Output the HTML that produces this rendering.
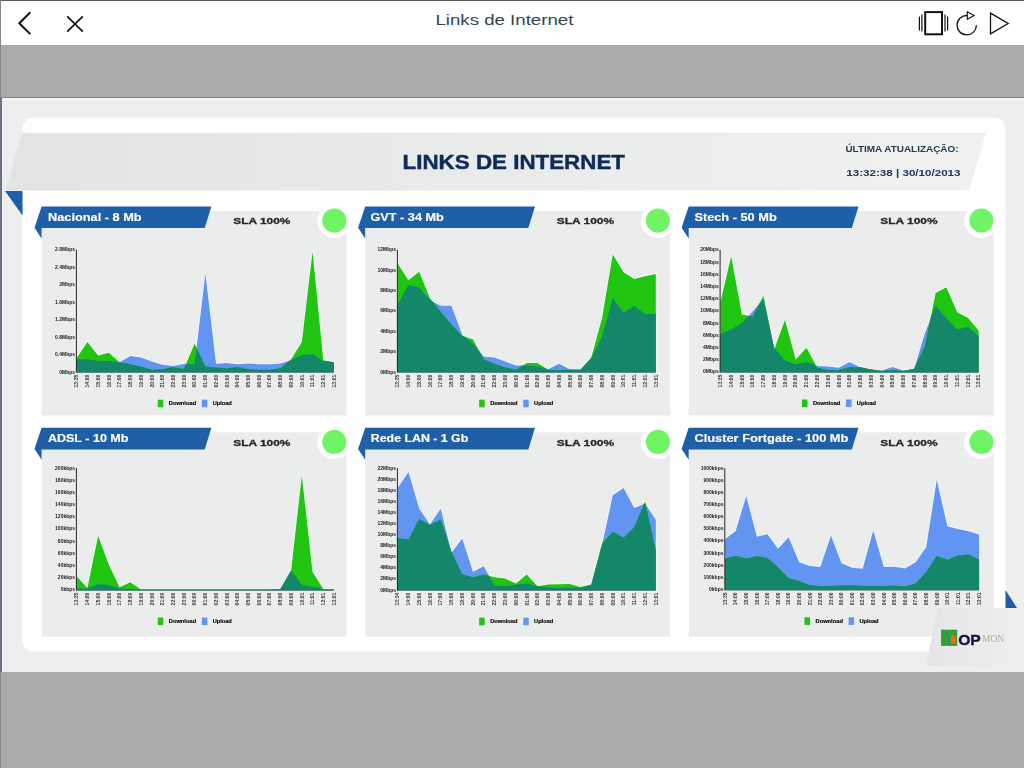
<!DOCTYPE html>
<html><head><meta charset="utf-8"><title>Links de Internet</title>
<style>
html,body{margin:0;padding:0;}
body{width:1024px;height:768px;overflow:hidden;background:#aaaaaa;position:relative;font-family:"Liberation Sans",sans-serif;}
#bar{position:absolute;left:0;top:0;width:1024px;height:45px;background:#fff;}
#bt{position:absolute;left:0;top:0;width:1024px;height:1px;background:#5a5a5a;}
#bl{position:absolute;left:0;top:0;width:1px;height:768px;background:#858585;}
#dl{position:absolute;left:0;top:97px;width:2px;height:574.5px;background:#6c7385;}
#dt{position:absolute;left:0;top:97px;width:1024px;height:1px;background:#82858f;}
#dt2{position:absolute;left:2px;top:98px;width:1022px;height:1.5px;background:#f5f5f8;}
#ttl{position:absolute;left:0;width:1008px;top:9px;text-align:center;font-size:16.5px;line-height:20px;color:#2f4652;letter-spacing:0.75px;white-space:nowrap;}
#dash{position:absolute;left:0;top:97px;width:1024px;height:574.5px;background:#eeeeef;}
svg{position:absolute;left:0;top:0;}
svg text{font-family:"Liberation Sans",sans-serif;}
.pt{font-size:10.3px;font-weight:bold;fill:#fff;stroke:#fff;stroke-width:0.15px;}
.sla{font-size:9.9px;font-weight:bold;fill:#262626;stroke:#262626;stroke-width:0.3px;}
.yl{font-size:5px;fill:#222;text-anchor:end;font-weight:bold;}
.xl{font-size:5px;fill:#333;text-anchor:end;font-weight:bold;}
.lg{font-size:5.9px;font-weight:bold;fill:#000;stroke:#000;stroke-width:0.15px;}
</style></head><body>
<div id="bar"></div>
<div id="dash"></div>
<svg width="1024" height="768" viewBox="0 0 1024 768">
<defs>
<linearGradient id="bg1" x1="0" y1="0" x2="1" y2="0"><stop offset="0" stop-color="#e2e3e4"/><stop offset="0.45" stop-color="#e9eaea"/><stop offset="1" stop-color="#f1f1f1"/></linearGradient>
<linearGradient id="bg2" x1="0" y1="0" x2="1" y2="0"><stop offset="0" stop-color="#e4e5e6"/><stop offset="1" stop-color="#eeeeef"/></linearGradient>
</defs>
<text x="435.4" y="24.7" font-size="15.4" fill="#2f4652" textLength="138" lengthAdjust="spacingAndGlyphs">Links de Internet</text>
<!-- top bar icons -->
<g fill="none" stroke="#111" stroke-linecap="butt">
<polyline points="30.3,12.3 19.3,23.2 30.3,34.1" stroke-width="2"/>
<path d="M67.2,16.3 L82.8,31.7 M82.8,16.3 L67.2,31.7" stroke-width="1.7"/>
<rect x="925.2" y="12.1" width="16.8" height="22.2" stroke-width="2"/>
<path d="M919.4,16.6 V30.6 M945,14.6 V31.6" stroke-width="1.2"/>
<path d="M921.9,14.6 V31.6 M947.6,16.6 V30.6" stroke-width="1.2"/>
<path d="M967.3,15.5 A9.7,9.7 0 1 0 976.4,25.2" stroke-width="1.3"/>
<polygon points="967.3,11.7 974.1,15.5 967.3,19.3" stroke-width="1.1"/>
<polygon points="990.5,13.1 1008.2,23.5 990.5,33.9" stroke-width="1.3"/>
</g>
<g id="dashg" style="filter:blur(0.45px)">
<!-- white panel -->
<rect x="22.5" y="117.5" width="983" height="534" rx="11" ry="11" fill="#fff"/>
<!-- banner -->
<polygon points="22.5,132.8 986,132.8 969,190.4 5.3,190.4" fill="url(#bg1)"/>
<polygon points="5,191 22.5,191 22.5,215.5" fill="#1f5fa7"/>
<text x="402.6" y="169.2" font-size="20.2" font-weight="bold" fill="#0f2b5b" stroke="#0f2b5b" stroke-width="0.45" textLength="222.4" lengthAdjust="spacingAndGlyphs">LINKS DE INTERNET</text>
<text x="845.4" y="152.3" font-size="9.0" font-weight="bold" fill="#26365a" textLength="113.2" lengthAdjust="spacingAndGlyphs">ÚLTIMA ATUALIZAÇÃO:</text>
<text x="846.3" y="175.7" font-size="8.3" font-weight="bold" fill="#26365a" textLength="114.2" lengthAdjust="spacingAndGlyphs">13:32:38 | 30/10/2013</text>
<rect x="41.6" y="211" width="305" height="204.4" fill="#ebecec"/>
<polygon points="41.6,206.5 211.4,206.5 204.7,228.1 41.6,228.1 41.6,238.5 34.5,227.7" fill="#1f5fa7"/>
<text class="pt" x="48" y="221" textLength="93.6" lengthAdjust="spacingAndGlyphs">Nacional - 8 Mb</text>
<text class="sla" x="233.2" y="224.4" textLength="57.2" lengthAdjust="spacingAndGlyphs">SLA 100%</text>
<circle cx="334.3" cy="220.6" r="17.1" fill="#fff"/>
<circle cx="334.3" cy="220.6" r="12.05" fill="#6ff466"/>
<polygon points="76.7,372 76.7,357.96 87.42,341.92 98.14,355.59 108.86,352.86 119.58,362.34 130.3,355.96 141.03,357.42 151.75,361.61 162.47,364.71 173.19,365.98 183.91,363.8 186.01,363.9 194.63,343.38 196.6,347.64 205.35,273.57 216.07,363.8 226.79,362.89 237.51,364.34 248.23,363.43 258.95,364.16 269.68,364.34 280.4,363.43 289.44,360.66 291.12,359.24 301.84,341.92 312.56,251.69 323.28,360.15 334,362.34 334,372" fill="none" stroke="#fbfdff" stroke-opacity="0.75" stroke-width="1.5" stroke-linejoin="round"/>
<polygon points="76.7,372 76.7,359.24 87.42,359.24 98.14,361.06 108.86,361.06 119.58,362.34 130.3,355.96 141.03,357.42 151.75,361.61 162.47,364.71 173.19,365.98 183.91,363.8 194.63,364.34 205.35,273.57 216.07,363.8 226.79,362.89 237.51,364.34 248.23,363.43 258.95,364.16 269.68,364.34 280.4,363.43 291.12,360.15 301.84,354.68 312.56,354.32 323.28,361.06 334,362.34 334,372" fill="#6295f1"/>
<polygon points="76.7,372 76.7,357.96 87.42,341.92 98.14,355.59 108.86,352.86 119.58,362.34 130.3,364.34 141.03,366.53 151.75,369.63 162.47,369.27 173.19,366.9 183.91,368.9 194.63,343.38 205.35,366.53 216.07,367.44 226.79,368.35 237.51,367.08 248.23,369.27 258.95,369.63 269.68,369.63 280.4,368.35 291.12,359.24 301.84,341.92 312.56,251.69 323.28,360.15 334,362.34 334,372" fill="#1fc510"/>
<polygon points="76.7,372 76.7,359.24 87.42,359.24 98.14,361.06 108.86,361.06 119.58,362.34 130.3,364.34 141.03,366.53 151.75,369.63 162.47,369.27 173.19,366.9 183.91,368.9 186.01,363.9 194.63,364.34 196.6,347.64 205.35,366.53 216.07,367.44 226.79,368.35 237.51,367.08 248.23,369.27 258.95,369.63 269.68,369.63 280.4,368.35 289.44,360.66 291.12,360.15 301.84,354.68 312.56,354.32 323.28,361.06 334,362.34 334,372" fill="#14876a"/>
<line x1="76.4" y1="249.8" x2="76.4" y2="372.6" stroke="#111" stroke-width="0.9"/>
<line x1="76.2" y1="372.3" x2="334" y2="372.3" stroke="#2c6a62" stroke-width="1.1"/>
<text class="yl" x="75.1" y="251.3">2.8Mbps</text>
<text class="yl" x="75.1" y="268.76">2.4Mbps</text>
<text class="yl" x="75.1" y="286.21">2Mbps</text>
<text class="yl" x="75.1" y="303.67">1.6Mbps</text>
<text class="yl" x="75.1" y="321.13">1.2Mbps</text>
<text class="yl" x="75.1" y="338.59">0.8Mbps</text>
<text class="yl" x="75.1" y="356.04">0.4Mbps</text>
<text class="yl" x="75.1" y="373.5">0Mbps</text>
<text class="xl" transform="translate(78.45,374.8) rotate(-90)">13:35</text>
<text class="xl" transform="translate(89.17,374.8) rotate(-90)">14:00</text>
<text class="xl" transform="translate(99.89,374.8) rotate(-90)">15:00</text>
<text class="xl" transform="translate(110.61,374.8) rotate(-90)">16:00</text>
<text class="xl" transform="translate(121.33,374.8) rotate(-90)">17:00</text>
<text class="xl" transform="translate(132.05,374.8) rotate(-90)">18:00</text>
<text class="xl" transform="translate(142.78,374.8) rotate(-90)">19:00</text>
<text class="xl" transform="translate(153.5,374.8) rotate(-90)">20:00</text>
<text class="xl" transform="translate(164.22,374.8) rotate(-90)">21:00</text>
<text class="xl" transform="translate(174.94,374.8) rotate(-90)">22:00</text>
<text class="xl" transform="translate(185.66,374.8) rotate(-90)">23:00</text>
<text class="xl" transform="translate(196.38,374.8) rotate(-90)">00:00</text>
<text class="xl" transform="translate(207.1,374.8) rotate(-90)">01:00</text>
<text class="xl" transform="translate(217.82,374.8) rotate(-90)">02:00</text>
<text class="xl" transform="translate(228.54,374.8) rotate(-90)">03:00</text>
<text class="xl" transform="translate(239.26,374.8) rotate(-90)">04:00</text>
<text class="xl" transform="translate(249.98,374.8) rotate(-90)">05:00</text>
<text class="xl" transform="translate(260.7,374.8) rotate(-90)">06:00</text>
<text class="xl" transform="translate(271.43,374.8) rotate(-90)">07:00</text>
<text class="xl" transform="translate(282.15,374.8) rotate(-90)">08:00</text>
<text class="xl" transform="translate(292.87,374.8) rotate(-90)">09:00</text>
<text class="xl" transform="translate(303.59,374.8) rotate(-90)">10:01</text>
<text class="xl" transform="translate(314.31,374.8) rotate(-90)">11:01</text>
<text class="xl" transform="translate(325.03,374.8) rotate(-90)">12:01</text>
<text class="xl" transform="translate(335.75,374.8) rotate(-90)">13:01</text>
<rect x="157.75" y="399.7" width="5.5" height="7.6" fill="#1fc510"/>
<text class="lg" x="168.75" y="405.3" textLength="27.4" lengthAdjust="spacingAndGlyphs">Download</text>
<rect x="201.85" y="399.7" width="5.5" height="7.6" fill="#6295f1"/>
<text class="lg" x="212.65" y="405.3" textLength="19.2" lengthAdjust="spacingAndGlyphs">Upload</text>
<rect x="365.2" y="211" width="305" height="204.4" fill="#ebecec"/>
<polygon points="365.2,206.5 535,206.5 528.3,228.1 365.2,228.1 365.2,238.5 358.1,227.7" fill="#1f5fa7"/>
<text class="pt" x="370.4" y="221" textLength="73.5" lengthAdjust="spacingAndGlyphs">GVT - 34 Mb</text>
<text class="sla" x="556.8" y="224.4" textLength="57.2" lengthAdjust="spacingAndGlyphs">SLA 100%</text>
<circle cx="657.9" cy="220.6" r="17.1" fill="#fff"/>
<circle cx="657.9" cy="220.6" r="12.05" fill="#6ff466"/>
<polygon points="397.7,372 397.7,263.54 408.45,280.31 419.21,271.74 429.96,298.18 432.46,301.36 440.72,305.83 451.47,305.83 462.22,334.63 464.58,336.63 472.98,339.19 479.7,351.72 483.73,356.51 494.49,357.42 505.24,361.61 516,365.62 522.39,365.62 526.75,362.89 537.5,362.89 547.28,369.02 548.26,369.27 559.01,363.8 569.77,369.27 580.52,369.63 591.27,357.42 602.03,318.23 612.78,254.43 623.54,272.29 634.29,279.04 645.05,276.3 655.8,273.93 655.8,372" fill="none" stroke="#fbfdff" stroke-opacity="0.75" stroke-width="1.5" stroke-linejoin="round"/>
<polygon points="397.7,372 397.7,304.56 408.45,285.05 419.21,287.6 429.96,300 440.72,305.83 451.47,305.83 462.22,334.63 472.98,343.75 483.73,356.51 494.49,357.42 505.24,361.61 516,365.62 526.75,365.62 537.5,366.53 548.26,369.27 559.01,363.8 569.77,369.27 580.52,369.63 591.27,358.33 602.03,336.45 612.78,298.18 623.54,312.76 634.29,305.83 645.05,314.22 655.8,313.67 655.8,372" fill="#6295f1"/>
<polygon points="397.7,372 397.7,263.54 408.45,280.31 419.21,271.74 429.96,298.18 440.72,311.85 451.47,324.61 462.22,335.91 472.98,339.19 483.73,359.24 494.49,363.8 505.24,367.44 516,369.63 526.75,362.89 537.5,362.89 548.26,369.63 559.01,370.18 569.77,369.63 580.52,369.63 591.27,357.42 602.03,318.23 612.78,254.43 623.54,272.29 634.29,279.04 645.05,276.3 655.8,273.93 655.8,372" fill="#1fc510"/>
<polygon points="397.7,372 397.7,304.56 408.45,285.05 419.21,287.6 429.96,300 432.46,301.36 440.72,311.85 451.47,324.61 462.22,335.91 464.58,336.63 472.98,343.75 479.7,351.72 483.73,359.24 494.49,363.8 505.24,367.44 516,369.63 522.39,365.62 526.75,365.62 537.5,366.53 547.28,369.02 548.26,369.63 559.01,370.18 569.77,369.63 580.52,369.63 591.27,358.33 602.03,336.45 612.78,298.18 623.54,312.76 634.29,305.83 645.05,314.22 655.8,313.67 655.8,372" fill="#14876a"/>
<line x1="397.4" y1="249.8" x2="397.4" y2="372.6" stroke="#111" stroke-width="0.9"/>
<line x1="397.2" y1="372.3" x2="655.8" y2="372.3" stroke="#2c6a62" stroke-width="1.1"/>
<text class="yl" x="396.1" y="251.3">12Mbps</text>
<text class="yl" x="396.1" y="271.67">10Mbps</text>
<text class="yl" x="396.1" y="292.03">8Mbps</text>
<text class="yl" x="396.1" y="312.4">6Mbps</text>
<text class="yl" x="396.1" y="332.77">4Mbps</text>
<text class="yl" x="396.1" y="353.13">2Mbps</text>
<text class="yl" x="396.1" y="373.5">0Mbps</text>
<text class="xl" transform="translate(399.45,374.8) rotate(-90)">13:35</text>
<text class="xl" transform="translate(410.2,374.8) rotate(-90)">14:00</text>
<text class="xl" transform="translate(420.96,374.8) rotate(-90)">15:00</text>
<text class="xl" transform="translate(431.71,374.8) rotate(-90)">16:00</text>
<text class="xl" transform="translate(442.47,374.8) rotate(-90)">17:00</text>
<text class="xl" transform="translate(453.22,374.8) rotate(-90)">18:00</text>
<text class="xl" transform="translate(463.97,374.8) rotate(-90)">19:00</text>
<text class="xl" transform="translate(474.73,374.8) rotate(-90)">20:00</text>
<text class="xl" transform="translate(485.48,374.8) rotate(-90)">21:00</text>
<text class="xl" transform="translate(496.24,374.8) rotate(-90)">22:00</text>
<text class="xl" transform="translate(506.99,374.8) rotate(-90)">23:00</text>
<text class="xl" transform="translate(517.75,374.8) rotate(-90)">00:00</text>
<text class="xl" transform="translate(528.5,374.8) rotate(-90)">01:00</text>
<text class="xl" transform="translate(539.25,374.8) rotate(-90)">02:00</text>
<text class="xl" transform="translate(550.01,374.8) rotate(-90)">03:00</text>
<text class="xl" transform="translate(560.76,374.8) rotate(-90)">04:00</text>
<text class="xl" transform="translate(571.52,374.8) rotate(-90)">05:00</text>
<text class="xl" transform="translate(582.27,374.8) rotate(-90)">06:00</text>
<text class="xl" transform="translate(593.02,374.8) rotate(-90)">07:00</text>
<text class="xl" transform="translate(603.78,374.8) rotate(-90)">08:00</text>
<text class="xl" transform="translate(614.53,374.8) rotate(-90)">09:00</text>
<text class="xl" transform="translate(625.29,374.8) rotate(-90)">10:01</text>
<text class="xl" transform="translate(636.04,374.8) rotate(-90)">11:01</text>
<text class="xl" transform="translate(646.8,374.8) rotate(-90)">12:01</text>
<text class="xl" transform="translate(657.55,374.8) rotate(-90)">13:01</text>
<rect x="479.15" y="399.7" width="5.5" height="7.6" fill="#1fc510"/>
<text class="lg" x="490.15" y="405.3" textLength="27.4" lengthAdjust="spacingAndGlyphs">Download</text>
<rect x="523.25" y="399.7" width="5.5" height="7.6" fill="#6295f1"/>
<text class="lg" x="534.05" y="405.3" textLength="19.2" lengthAdjust="spacingAndGlyphs">Upload</text>
<rect x="688.7" y="211" width="305" height="204.4" fill="#ebecec"/>
<polygon points="688.7,206.5 858.5,206.5 851.8,228.1 688.7,228.1 688.7,238.5 681.6,227.7" fill="#1f5fa7"/>
<text class="pt" x="694.4" y="221" textLength="82.3" lengthAdjust="spacingAndGlyphs">Stech - 50 Mb</text>
<text class="sla" x="880.3" y="224.4" textLength="57.2" lengthAdjust="spacingAndGlyphs">SLA 100%</text>
<circle cx="981.4" cy="220.6" r="17.1" fill="#fff"/>
<circle cx="981.4" cy="220.6" r="12.05" fill="#6ff466"/>
<polygon points="720.4,371.8 720.4,302.17 731.16,256.23 741.92,314.56 748.67,315.71 752.69,311.28 759.38,303.57 763.45,295.79 770.23,329.65 774.21,347.74 774.68,348.29 784.98,320.03 795.74,359.59 806.5,347.74 816.04,365.51 817.26,365.97 828.02,366.51 838.79,367.79 849.55,361.96 860.31,367.24 871.08,369.25 881.84,370.52 892.6,366.88 903.36,370.52 909.82,369.65 914.12,368.7 914.42,368.07 924.89,333.16 930.27,319.49 935.65,293.05 946.41,287.22 957.18,312.19 967.94,317.66 978.7,330.79 978.7,371.8" fill="none" stroke="#fbfdff" stroke-opacity="0.75" stroke-width="1.5" stroke-linejoin="round"/>
<polygon points="720.4,371.8 720.4,334.07 731.16,329.51 741.92,323.13 752.69,311.28 763.45,298.89 774.21,347.74 784.98,360.5 795.74,364.14 806.5,361.96 817.26,365.97 828.02,366.51 838.79,367.79 849.55,361.96 860.31,367.24 871.08,369.25 881.84,370.52 892.6,366.88 903.36,370.52 914.12,369.07 924.89,333.16 935.65,305.81 946.41,318.57 957.18,329.51 967.94,326.78 978.7,335.89 978.7,371.8" fill="#6295f1"/>
<polygon points="720.4,371.8 720.4,302.17 731.16,256.23 741.92,314.56 752.69,316.39 763.45,295.79 774.21,349.56 784.98,320.03 795.74,359.59 806.5,347.74 817.26,367.79 828.02,369.98 838.79,369.98 849.55,366.88 860.31,367.24 871.08,369.61 881.84,371.07 892.6,369.98 903.36,371.07 914.12,368.7 924.89,345.92 935.65,293.05 946.41,287.22 957.18,312.19 967.94,317.66 978.7,330.79 978.7,371.8" fill="#1fc510"/>
<polygon points="720.4,371.8 720.4,334.07 731.16,329.51 741.92,323.13 748.67,315.71 752.69,316.39 759.38,303.57 763.45,298.89 770.23,329.65 774.21,349.56 774.68,348.29 784.98,360.5 795.74,364.14 806.5,361.96 816.04,365.51 817.26,367.79 828.02,369.98 838.79,369.98 849.55,366.88 860.31,367.24 871.08,369.61 881.84,371.07 892.6,369.98 903.36,371.07 909.82,369.65 914.12,369.07 914.42,368.07 924.89,345.92 930.27,319.49 935.65,305.81 946.41,318.57 957.18,329.51 967.94,326.78 978.7,335.89 978.7,371.8" fill="#14876a"/>
<line x1="720.1" y1="249.8" x2="720.1" y2="372.4" stroke="#111" stroke-width="0.9"/>
<line x1="719.9" y1="372.1" x2="978.7" y2="372.1" stroke="#2c6a62" stroke-width="1.1"/>
<text class="yl" x="718.8" y="251.3">20Mbps</text>
<text class="yl" x="718.8" y="263.5">18Mbps</text>
<text class="yl" x="718.8" y="275.7">16Mbps</text>
<text class="yl" x="718.8" y="287.9">14Mbps</text>
<text class="yl" x="718.8" y="300.1">12Mbps</text>
<text class="yl" x="718.8" y="312.3">10Mbps</text>
<text class="yl" x="718.8" y="324.5">8Mbps</text>
<text class="yl" x="718.8" y="336.7">6Mbps</text>
<text class="yl" x="718.8" y="348.9">4Mbps</text>
<text class="yl" x="718.8" y="361.1">2Mbps</text>
<text class="yl" x="718.8" y="373.3">0Mbps</text>
<text class="xl" transform="translate(722.15,374.6) rotate(-90)">13:35</text>
<text class="xl" transform="translate(732.91,374.6) rotate(-90)">14:00</text>
<text class="xl" transform="translate(743.67,374.6) rotate(-90)">15:00</text>
<text class="xl" transform="translate(754.44,374.6) rotate(-90)">16:00</text>
<text class="xl" transform="translate(765.2,374.6) rotate(-90)">17:00</text>
<text class="xl" transform="translate(775.96,374.6) rotate(-90)">18:00</text>
<text class="xl" transform="translate(786.73,374.6) rotate(-90)">19:00</text>
<text class="xl" transform="translate(797.49,374.6) rotate(-90)">20:00</text>
<text class="xl" transform="translate(808.25,374.6) rotate(-90)">21:00</text>
<text class="xl" transform="translate(819.01,374.6) rotate(-90)">22:00</text>
<text class="xl" transform="translate(829.77,374.6) rotate(-90)">23:00</text>
<text class="xl" transform="translate(840.54,374.6) rotate(-90)">00:00</text>
<text class="xl" transform="translate(851.3,374.6) rotate(-90)">01:00</text>
<text class="xl" transform="translate(862.06,374.6) rotate(-90)">02:00</text>
<text class="xl" transform="translate(872.83,374.6) rotate(-90)">03:00</text>
<text class="xl" transform="translate(883.59,374.6) rotate(-90)">04:00</text>
<text class="xl" transform="translate(894.35,374.6) rotate(-90)">05:00</text>
<text class="xl" transform="translate(905.11,374.6) rotate(-90)">06:00</text>
<text class="xl" transform="translate(915.88,374.6) rotate(-90)">07:00</text>
<text class="xl" transform="translate(926.64,374.6) rotate(-90)">08:00</text>
<text class="xl" transform="translate(937.4,374.6) rotate(-90)">09:00</text>
<text class="xl" transform="translate(948.16,374.6) rotate(-90)">10:01</text>
<text class="xl" transform="translate(958.93,374.6) rotate(-90)">11:01</text>
<text class="xl" transform="translate(969.69,374.6) rotate(-90)">12:01</text>
<text class="xl" transform="translate(980.45,374.6) rotate(-90)">13:01</text>
<rect x="801.95" y="399.5" width="5.5" height="7.6" fill="#1fc510"/>
<text class="lg" x="812.95" y="405.1" textLength="27.4" lengthAdjust="spacingAndGlyphs">Download</text>
<rect x="846.05" y="399.5" width="5.5" height="7.6" fill="#6295f1"/>
<text class="lg" x="856.85" y="405.1" textLength="19.2" lengthAdjust="spacingAndGlyphs">Upload</text>
<rect x="41.6" y="432.3" width="305" height="204.4" fill="#ebecec"/>
<polygon points="41.6,427.8 211.4,427.8 204.7,449.4 41.6,449.4 41.6,459.8 34.5,449" fill="#1f5fa7"/>
<text class="pt" x="47.9" y="442.3" textLength="80.6" lengthAdjust="spacingAndGlyphs">ADSL - 10 Mb</text>
<text class="sla" x="233.2" y="445.7" textLength="57.2" lengthAdjust="spacingAndGlyphs">SLA 100%</text>
<circle cx="334.3" cy="441.9" r="17.1" fill="#fff"/>
<circle cx="334.3" cy="441.9" r="12.05" fill="#6ff466"/>
<polygon points="76.7,589.8 76.7,576.31 87.42,587.98 98.14,535.66 108.86,564.83 119.58,587.25 130.3,582.14 141.03,589.44 151.75,589.62 162.47,589.62 173.19,589.62 183.91,589.62 194.63,589.62 205.35,589.62 216.07,589.62 226.79,589.62 237.51,589.62 248.23,589.62 258.95,589.62 269.68,589.62 280.4,589.07 291.12,570.3 291.17,570.37 301.84,475.51 312.56,572.12 323.28,589.07 334,589.62 334,589.8" fill="none" stroke="#fbfdff" stroke-opacity="0.75" stroke-width="1.5" stroke-linejoin="round"/>
<polygon points="76.7,589.8 76.7,588.52 87.42,588.52 98.14,584.33 108.86,584.88 119.58,588.52 130.3,589.07 141.03,589.44 151.75,589.62 162.47,589.62 173.19,589.62 183.91,589.62 194.63,589.62 205.35,589.62 216.07,589.62 226.79,589.62 237.51,589.62 248.23,589.62 258.95,589.62 269.68,589.62 280.4,589.07 291.12,570.3 301.84,584.88 312.56,586.7 323.28,589.07 334,589.62 334,589.8" fill="#6295f1"/>
<polygon points="76.7,589.8 76.7,576.31 87.42,587.98 98.14,535.66 108.86,564.83 119.58,587.25 130.3,582.14 141.03,589.44 151.75,589.62 162.47,589.62 173.19,589.62 183.91,589.62 194.63,589.62 205.35,589.62 216.07,589.62 226.79,589.62 237.51,589.62 248.23,589.62 258.95,589.62 269.68,589.62 280.4,589.07 291.12,570.84 301.84,475.51 312.56,572.12 323.28,589.07 334,589.62 334,589.8" fill="#1fc510"/>
<polygon points="76.7,589.8 76.7,588.52 87.42,588.52 98.14,584.33 108.86,584.88 119.58,588.52 130.3,589.07 141.03,589.44 151.75,589.62 162.47,589.62 173.19,589.62 183.91,589.62 194.63,589.62 205.35,589.62 216.07,589.62 226.79,589.62 237.51,589.62 248.23,589.62 258.95,589.62 269.68,589.62 280.4,589.07 291.12,570.84 291.17,570.37 301.84,584.88 312.56,586.7 323.28,589.07 334,589.62 334,589.8" fill="#14876a"/>
<line x1="76.4" y1="468" x2="76.4" y2="590.4" stroke="#111" stroke-width="0.9"/>
<line x1="76.2" y1="590.1" x2="334" y2="590.1" stroke="#2c6a62" stroke-width="1.1"/>
<text class="yl" x="75.1" y="469.5">200kbps</text>
<text class="yl" x="75.1" y="481.68">180kbps</text>
<text class="yl" x="75.1" y="493.86">160kbps</text>
<text class="yl" x="75.1" y="506.04">140kbps</text>
<text class="yl" x="75.1" y="518.22">120kbps</text>
<text class="yl" x="75.1" y="530.4">100kbps</text>
<text class="yl" x="75.1" y="542.58">80kbps</text>
<text class="yl" x="75.1" y="554.76">60kbps</text>
<text class="yl" x="75.1" y="566.94">40kbps</text>
<text class="yl" x="75.1" y="579.12">20kbps</text>
<text class="yl" x="75.1" y="591.3">0kbps</text>
<text class="xl" transform="translate(78.45,592.6) rotate(-90)">13:35</text>
<text class="xl" transform="translate(89.17,592.6) rotate(-90)">14:00</text>
<text class="xl" transform="translate(99.89,592.6) rotate(-90)">15:00</text>
<text class="xl" transform="translate(110.61,592.6) rotate(-90)">16:00</text>
<text class="xl" transform="translate(121.33,592.6) rotate(-90)">17:00</text>
<text class="xl" transform="translate(132.05,592.6) rotate(-90)">18:00</text>
<text class="xl" transform="translate(142.78,592.6) rotate(-90)">19:00</text>
<text class="xl" transform="translate(153.5,592.6) rotate(-90)">20:00</text>
<text class="xl" transform="translate(164.22,592.6) rotate(-90)">21:00</text>
<text class="xl" transform="translate(174.94,592.6) rotate(-90)">22:00</text>
<text class="xl" transform="translate(185.66,592.6) rotate(-90)">23:00</text>
<text class="xl" transform="translate(196.38,592.6) rotate(-90)">00:00</text>
<text class="xl" transform="translate(207.1,592.6) rotate(-90)">01:00</text>
<text class="xl" transform="translate(217.82,592.6) rotate(-90)">02:00</text>
<text class="xl" transform="translate(228.54,592.6) rotate(-90)">03:00</text>
<text class="xl" transform="translate(239.26,592.6) rotate(-90)">04:00</text>
<text class="xl" transform="translate(249.98,592.6) rotate(-90)">05:00</text>
<text class="xl" transform="translate(260.7,592.6) rotate(-90)">06:00</text>
<text class="xl" transform="translate(271.43,592.6) rotate(-90)">07:00</text>
<text class="xl" transform="translate(282.15,592.6) rotate(-90)">08:00</text>
<text class="xl" transform="translate(292.87,592.6) rotate(-90)">09:00</text>
<text class="xl" transform="translate(303.59,592.6) rotate(-90)">10:01</text>
<text class="xl" transform="translate(314.31,592.6) rotate(-90)">11:01</text>
<text class="xl" transform="translate(325.03,592.6) rotate(-90)">12:01</text>
<text class="xl" transform="translate(335.75,592.6) rotate(-90)">13:01</text>
<rect x="157.75" y="617.5" width="5.5" height="7.6" fill="#1fc510"/>
<text class="lg" x="168.75" y="623.1" textLength="27.4" lengthAdjust="spacingAndGlyphs">Download</text>
<rect x="201.85" y="617.5" width="5.5" height="7.6" fill="#6295f1"/>
<text class="lg" x="212.65" y="623.1" textLength="19.2" lengthAdjust="spacingAndGlyphs">Upload</text>
<rect x="365.2" y="432.3" width="305" height="204.4" fill="#ebecec"/>
<polygon points="365.2,427.8 535,427.8 528.3,449.4 365.2,449.4 365.2,459.8 358.1,449" fill="#1f5fa7"/>
<text class="pt" x="370.8" y="442.3" textLength="97.5" lengthAdjust="spacingAndGlyphs">Rede LAN - 1 Gb</text>
<text class="sla" x="556.8" y="445.7" textLength="57.2" lengthAdjust="spacingAndGlyphs">SLA 100%</text>
<circle cx="657.9" cy="441.9" r="17.1" fill="#fff"/>
<circle cx="657.9" cy="441.9" r="12.05" fill="#6ff466"/>
<polygon points="397.7,590 397.7,487.92 408.45,472.06 419.21,508.52 429.96,524.38 440.72,508.52 450.64,549.24 451.47,551.72 451.74,552.28 462.22,538.41 472.98,571.77 483.73,566.3 489.11,575.87 494.49,577.24 505.24,578.52 516,583.62 526.75,574.51 537.5,586.35 548.26,584.53 559.01,584.17 569.77,583.98 580.52,586.9 591.27,584.53 602.03,543.52 602.44,543.06 612.78,495.21 623.54,487.92 634.29,507.97 644.11,503.81 645.05,501.59 645.64,504.33 655.8,519.82 655.8,590" fill="none" stroke="#fbfdff" stroke-opacity="0.75" stroke-width="1.5" stroke-linejoin="round"/>
<polygon points="397.7,590 397.7,487.92 408.45,472.06 419.21,508.52 429.96,524.38 440.72,508.52 451.47,552.63 462.22,538.41 472.98,571.77 483.73,566.3 494.49,585.44 505.24,586.35 516,584.53 526.75,583.62 537.5,586.35 548.26,587.63 559.01,587.63 569.77,587.63 580.52,587.63 591.27,584.9 602.03,544.98 612.78,495.21 623.54,487.92 634.29,507.97 645.05,503.42 655.8,519.82 655.8,590" fill="#6295f1"/>
<polygon points="397.7,590 397.7,538.05 408.45,539.51 419.21,518.91 429.96,524.93 440.72,519.46 451.47,551.72 462.22,574.51 472.98,577.24 483.73,574.51 494.49,577.24 505.24,578.52 516,583.62 526.75,574.51 537.5,586.35 548.26,584.53 559.01,584.17 569.77,583.98 580.52,586.9 591.27,584.53 602.03,543.52 612.78,531.67 623.54,537.69 634.29,527.11 645.05,501.59 655.8,550.81 655.8,590" fill="#1fc510"/>
<polygon points="397.7,590 397.7,538.05 408.45,539.51 419.21,518.91 429.96,524.93 440.72,519.46 450.64,549.24 451.47,552.63 451.74,552.28 462.22,574.51 472.98,577.24 483.73,574.51 489.11,575.87 494.49,585.44 505.24,586.35 516,584.53 526.75,583.62 537.5,586.35 548.26,587.63 559.01,587.63 569.77,587.63 580.52,587.63 591.27,584.9 602.03,544.98 602.44,543.06 612.78,531.67 623.54,537.69 634.29,527.11 644.11,503.81 645.05,503.42 645.64,504.33 655.8,550.81 655.8,590" fill="#14876a"/>
<line x1="397.4" y1="468" x2="397.4" y2="590.6" stroke="#111" stroke-width="0.9"/>
<line x1="397.2" y1="590.3" x2="655.8" y2="590.3" stroke="#2c6a62" stroke-width="1.1"/>
<text class="yl" x="396.1" y="469.5">22Mbps</text>
<text class="yl" x="396.1" y="480.59">20Mbps</text>
<text class="yl" x="396.1" y="491.68">18Mbps</text>
<text class="yl" x="396.1" y="502.77">16Mbps</text>
<text class="yl" x="396.1" y="513.86">14Mbps</text>
<text class="yl" x="396.1" y="524.95">12Mbps</text>
<text class="yl" x="396.1" y="536.05">10Mbps</text>
<text class="yl" x="396.1" y="547.14">8Mbps</text>
<text class="yl" x="396.1" y="558.23">6Mbps</text>
<text class="yl" x="396.1" y="569.32">4Mbps</text>
<text class="yl" x="396.1" y="580.41">2Mbps</text>
<text class="yl" x="396.1" y="591.5">0Mbps</text>
<text class="xl" transform="translate(399.45,592.8) rotate(-90)">13:34</text>
<text class="xl" transform="translate(410.2,592.8) rotate(-90)">14:00</text>
<text class="xl" transform="translate(420.96,592.8) rotate(-90)">15:00</text>
<text class="xl" transform="translate(431.71,592.8) rotate(-90)">16:00</text>
<text class="xl" transform="translate(442.47,592.8) rotate(-90)">17:00</text>
<text class="xl" transform="translate(453.22,592.8) rotate(-90)">18:00</text>
<text class="xl" transform="translate(463.97,592.8) rotate(-90)">19:00</text>
<text class="xl" transform="translate(474.73,592.8) rotate(-90)">20:00</text>
<text class="xl" transform="translate(485.48,592.8) rotate(-90)">21:00</text>
<text class="xl" transform="translate(496.24,592.8) rotate(-90)">22:00</text>
<text class="xl" transform="translate(506.99,592.8) rotate(-90)">23:00</text>
<text class="xl" transform="translate(517.75,592.8) rotate(-90)">00:00</text>
<text class="xl" transform="translate(528.5,592.8) rotate(-90)">01:00</text>
<text class="xl" transform="translate(539.25,592.8) rotate(-90)">02:00</text>
<text class="xl" transform="translate(550.01,592.8) rotate(-90)">03:00</text>
<text class="xl" transform="translate(560.76,592.8) rotate(-90)">04:00</text>
<text class="xl" transform="translate(571.52,592.8) rotate(-90)">05:00</text>
<text class="xl" transform="translate(582.27,592.8) rotate(-90)">06:00</text>
<text class="xl" transform="translate(593.02,592.8) rotate(-90)">07:00</text>
<text class="xl" transform="translate(603.78,592.8) rotate(-90)">08:00</text>
<text class="xl" transform="translate(614.53,592.8) rotate(-90)">09:00</text>
<text class="xl" transform="translate(625.29,592.8) rotate(-90)">10:01</text>
<text class="xl" transform="translate(636.04,592.8) rotate(-90)">11:01</text>
<text class="xl" transform="translate(646.8,592.8) rotate(-90)">12:01</text>
<text class="xl" transform="translate(657.55,592.8) rotate(-90)">13:01</text>
<rect x="479.15" y="617.7" width="5.5" height="7.6" fill="#1fc510"/>
<text class="lg" x="490.15" y="623.3" textLength="27.4" lengthAdjust="spacingAndGlyphs">Download</text>
<rect x="523.25" y="617.7" width="5.5" height="7.6" fill="#6295f1"/>
<text class="lg" x="534.05" y="623.3" textLength="19.2" lengthAdjust="spacingAndGlyphs">Upload</text>
<rect x="688.7" y="432.3" width="305" height="204.4" fill="#ebecec"/>
<polygon points="688.7,427.8 858.5,427.8 851.8,449.4 688.7,449.4 688.7,459.8 681.6,449" fill="#1f5fa7"/>
<text class="pt" x="694.4" y="442.3" textLength="154" lengthAdjust="spacingAndGlyphs">Cluster Fortgate - 100 Mb</text>
<text class="sla" x="880.3" y="445.7" textLength="57.2" lengthAdjust="spacingAndGlyphs">SLA 100%</text>
<circle cx="981.4" cy="441.9" r="17.1" fill="#fff"/>
<circle cx="981.4" cy="441.9" r="12.05" fill="#6ff466"/>
<polygon points="725.1,589.6 725.1,539.11 735.68,530.91 746.27,495.91 756.85,536.74 767.43,534.19 778.02,548.77 788.6,537.29 799.18,562.26 809.77,565.9 820.35,567 830.93,535.46 841.52,563.35 852.1,567.73 862.68,568.82 873.27,530.54 883.85,567 894.43,566.63 905.02,568.46 915.6,562.26 926.18,547.31 936.77,479.87 947.35,526.35 957.93,529.08 968.52,531.27 979.1,534.55 979.1,589.6" fill="none" stroke="#fbfdff" stroke-opacity="0.75" stroke-width="1.5" stroke-linejoin="round"/>
<polygon points="725.1,589.6 725.1,539.11 735.68,530.91 746.27,495.91 756.85,536.74 767.43,534.19 778.02,548.77 788.6,537.29 799.18,562.26 809.77,565.9 820.35,567 830.93,535.46 841.52,563.35 852.1,567.73 862.68,568.82 873.27,530.54 883.85,567 894.43,566.63 905.02,568.46 915.6,562.26 926.18,547.31 936.77,479.87 947.35,526.35 957.93,529.08 968.52,531.27 979.1,534.55 979.1,589.6" fill="#6295f1"/>
<polygon points="725.1,589.6 725.1,558.61 735.68,556.06 746.27,558.61 756.85,556.06 767.43,557.88 778.02,567.36 788.6,578.3 799.18,581.03 809.77,585.23 820.35,585.95 830.93,585.95 841.52,585.59 852.1,585.23 862.68,585.95 873.27,585.95 883.85,585.95 894.43,585.59 905.02,586.5 915.6,583.4 926.18,571.92 936.77,556.06 947.35,559.71 957.93,555.51 968.52,554.6 979.1,559.71 979.1,589.6" fill="#1fc510"/>
<polygon points="725.1,589.6 725.1,558.61 735.68,556.06 746.27,558.61 756.85,556.06 767.43,557.88 778.02,567.36 788.6,578.3 799.18,581.03 809.77,585.23 820.35,585.95 830.93,585.95 841.52,585.59 852.1,585.23 862.68,585.95 873.27,585.95 883.85,585.95 894.43,585.59 905.02,586.5 915.6,583.4 926.18,571.92 936.77,556.06 947.35,559.71 957.93,555.51 968.52,554.6 979.1,559.71 979.1,589.6" fill="#14876a"/>
<line x1="724.8" y1="468" x2="724.8" y2="590.2" stroke="#111" stroke-width="0.9"/>
<line x1="724.6" y1="589.9" x2="979.1" y2="589.9" stroke="#2c6a62" stroke-width="1.1"/>
<text class="yl" x="723.5" y="469.5">1000kbps</text>
<text class="yl" x="723.5" y="481.66">900kbps</text>
<text class="yl" x="723.5" y="493.82">800kbps</text>
<text class="yl" x="723.5" y="505.98">700kbps</text>
<text class="yl" x="723.5" y="518.14">600kbps</text>
<text class="yl" x="723.5" y="530.3">500kbps</text>
<text class="yl" x="723.5" y="542.46">400kbps</text>
<text class="yl" x="723.5" y="554.62">300kbps</text>
<text class="yl" x="723.5" y="566.78">200kbps</text>
<text class="yl" x="723.5" y="578.94">100kbps</text>
<text class="yl" x="723.5" y="591.1">0kbps</text>
<text class="xl" transform="translate(726.85,592.4) rotate(-90)">13:35</text>
<text class="xl" transform="translate(737.43,592.4) rotate(-90)">14:00</text>
<text class="xl" transform="translate(748.02,592.4) rotate(-90)">15:00</text>
<text class="xl" transform="translate(758.6,592.4) rotate(-90)">16:00</text>
<text class="xl" transform="translate(769.18,592.4) rotate(-90)">17:00</text>
<text class="xl" transform="translate(779.77,592.4) rotate(-90)">18:00</text>
<text class="xl" transform="translate(790.35,592.4) rotate(-90)">19:00</text>
<text class="xl" transform="translate(800.93,592.4) rotate(-90)">20:00</text>
<text class="xl" transform="translate(811.52,592.4) rotate(-90)">21:00</text>
<text class="xl" transform="translate(822.1,592.4) rotate(-90)">22:00</text>
<text class="xl" transform="translate(832.68,592.4) rotate(-90)">23:00</text>
<text class="xl" transform="translate(843.27,592.4) rotate(-90)">00:00</text>
<text class="xl" transform="translate(853.85,592.4) rotate(-90)">01:00</text>
<text class="xl" transform="translate(864.43,592.4) rotate(-90)">02:00</text>
<text class="xl" transform="translate(875.02,592.4) rotate(-90)">03:00</text>
<text class="xl" transform="translate(885.6,592.4) rotate(-90)">04:00</text>
<text class="xl" transform="translate(896.18,592.4) rotate(-90)">05:00</text>
<text class="xl" transform="translate(906.77,592.4) rotate(-90)">06:00</text>
<text class="xl" transform="translate(917.35,592.4) rotate(-90)">07:00</text>
<text class="xl" transform="translate(927.93,592.4) rotate(-90)">08:00</text>
<text class="xl" transform="translate(938.52,592.4) rotate(-90)">09:00</text>
<text class="xl" transform="translate(949.1,592.4) rotate(-90)">10:01</text>
<text class="xl" transform="translate(959.68,592.4) rotate(-90)">11:01</text>
<text class="xl" transform="translate(970.27,592.4) rotate(-90)">12:01</text>
<text class="xl" transform="translate(980.85,592.4) rotate(-90)">13:01</text>
<rect x="804.5" y="617.3" width="5.5" height="7.6" fill="#1fc510"/>
<text class="lg" x="815.5" y="622.9" textLength="27.4" lengthAdjust="spacingAndGlyphs">Download</text>
<rect x="848.6" y="617.3" width="5.5" height="7.6" fill="#6295f1"/>
<text class="lg" x="859.4" y="622.9" textLength="19.2" lengthAdjust="spacingAndGlyphs">Upload</text>
<!-- right fold + logo -->
<polygon points="1005.5,590 1005.5,608 1017,608" fill="#1f5fa7"/>
<polygon points="937.6,608 1017,608 1005.5,666 926,666" fill="url(#bg2)"/>
<rect x="941" y="629.7" width="16.2" height="16.2" fill="#2e9e3e"/>
<rect x="950.8" y="635.6" width="4.8" height="7.8" fill="#f26a1b"/>
<text x="958.2" y="645" font-size="15.4" font-weight="bold" fill="#14143c" stroke="#14143c" stroke-width="0.4" textLength="22.6" lengthAdjust="spacingAndGlyphs">OP</text>
<text x="981.9" y="642.3" font-size="10.6" fill="#b3ad98" style="font-family:'Liberation Serif',serif" textLength="22.4" lengthAdjust="spacingAndGlyphs">MON</text>
</g>
</svg>
<div id="bt"></div><div id="bl"></div><div id="dt2"></div><div id="dl"></div><div id="dt"></div>
</body></html>
